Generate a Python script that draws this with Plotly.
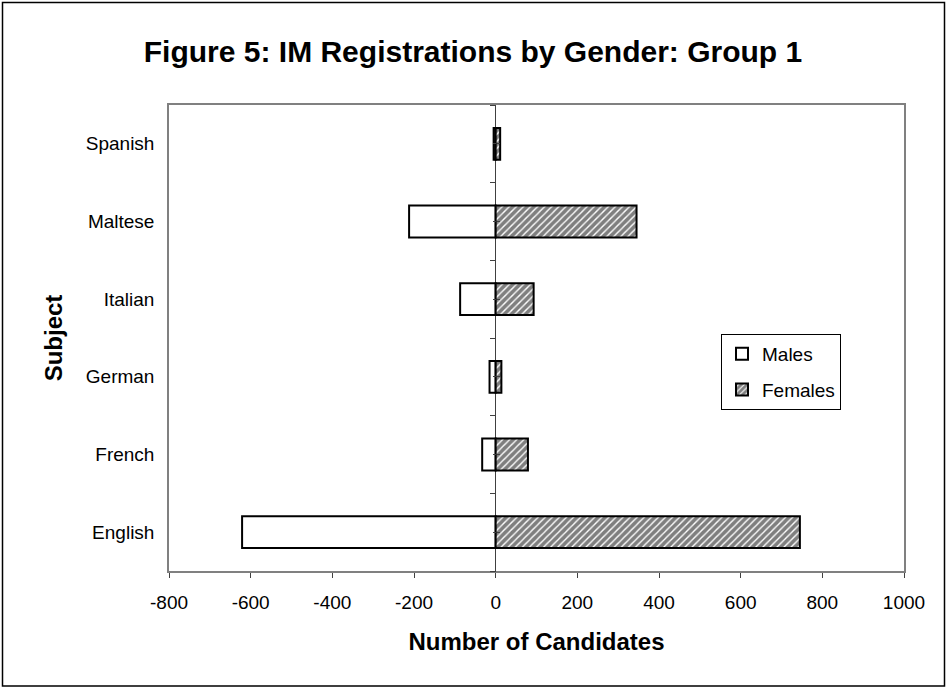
import plotly.graph_objects as go

subjects = ["English", "French", "German", "Italian", "Maltese", "Spanish"]
males = [-621, -33, -15, -87, -212, -5]
females = [745, 79, 14, 93, 345, 11]
x_ticks = [-800, -600, -400, -200, 0, 200, 400, 600, 800, 1000]
x_tick_text = [str(v) for v in x_ticks]

FONT = "Liberation Sans, Arial, sans-serif"
W, H = 946, 689
L, R, T, B = 169, 42, 105, 118
pw, ph = W - L - R, H - T - B

fig = go.Figure()
fig.add_trace(go.Bar(
    y=subjects, x=males, orientation="h", name="Males", legendgroup="m",
    marker=dict(color="white", line=dict(color="black", width=2)),
))
fig.add_trace(go.Bar(
    y=subjects, x=females, orientation="h", name="Females", legendgroup="f",
    marker=dict(color="white", line=dict(color="black", width=2),
                pattern=dict(shape="/", fgcolor="black", bgcolor="white",
                             size=5, solidity=0.72)),
))
# helper traces to register the tick axes at x = 0
fig.add_trace(go.Scatter(x=[], y=[], yaxis="y2", showlegend=False, hoverinfo="skip"))
fig.add_trace(go.Scatter(x=[], y=[], yaxis="y3", showlegend=False, hoverinfo="skip"))

n = len(subjects)
bounds = [i - 0.5 for i in range(n + 1)]
centers = list(range(n))
zero_pos = (0 - x_ticks[0]) / (x_ticks[-1] - x_ticks[0])

fig.update_layout(
    width=W, height=H,
    margin=dict(l=L, r=R, t=T, b=B, autoexpand=False),
    paper_bgcolor="white", plot_bgcolor="white",
    font=dict(family=FONT, size=19, color="black"),
    barmode="overlay", bargap=0.59,
    title=dict(text="<b>Figure 5: IM Registrations by Gender: Group 1</b>",
               x=0.5, xref="container", xanchor="center",
               y=1 - 51 / H, yref="container", yanchor="middle",
               font=dict(family=FONT, size=30, color="black")),
    xaxis=dict(range=[x_ticks[0], x_ticks[-1]], tickvals=x_ticks, ticktext=x_tick_text,
               ticks="outside", ticklen=5, tickcolor="#404040",
               ticklabelstandoff=8,
               showline=True, linecolor="#808080", linewidth=1.5, mirror=True,
               showgrid=False, zeroline=True, zerolinecolor="#404040", zerolinewidth=1,
               title=dict(text="<b>Number of Candidates</b>", standoff=22,
                          font=dict(family=FONT, size=24)),
               automargin=False),
    yaxis=dict(type="category", categoryorder="array", categoryarray=subjects,
               range=[-0.5, n - 0.5], ticks="", ticklabelstandoff=9,
               showline=True, linecolor="#808080", linewidth=1.5, mirror=True,
               showgrid=False,
               title=dict(text="<b>Subject</b>", standoff=16,
                          font=dict(family=FONT, size=24)),
               automargin=False),
    yaxis2=dict(overlaying="y", anchor="free", position=zero_pos,
                range=[-0.5, n - 0.5], tickvals=bounds, ticks="outside",
                ticklen=6, tickcolor="#404040", tickwidth=1,
                showticklabels=False, showgrid=False, zeroline=False, showline=False,
                minor=dict(tickvals=centers, ticks="outside", ticklen=3,
                           tickcolor="#404040", showgrid=False)),
    yaxis3=dict(overlaying="y", anchor="free", position=zero_pos, side="left",
                range=[-0.5, n - 0.5], tickvals=centers, ticks="inside",
                ticklen=3, tickcolor="#404040", tickwidth=1,
                showticklabels=False, showgrid=False, zeroline=False, showline=False),
    legend=dict(x=(721 - L) / pw, y=(H - B - 334) / ph, xanchor="left", yanchor="top",
                bgcolor="white", bordercolor="black", borderwidth=1,
                font=dict(family=FONT, size=19), traceorder="grouped",
                tracegroupgap=8),
    shapes=[dict(type="rect", xref="paper", yref="paper",
                 x0=(2.5 - L) / pw, x1=(W - 1.5 - L) / pw,
                 y0=(H - B - (H - 3)) / ph, y1=(H - B - 2.5) / ph,
                 line=dict(color="black", width=1.5), fillcolor="rgba(0,0,0,0)",
                 layer="below")],
)

fig.write_html("out.html", config={"displayModeBar": False},
               post_script="document.body.style.margin='0px';document.body.style.padding='0px';")
